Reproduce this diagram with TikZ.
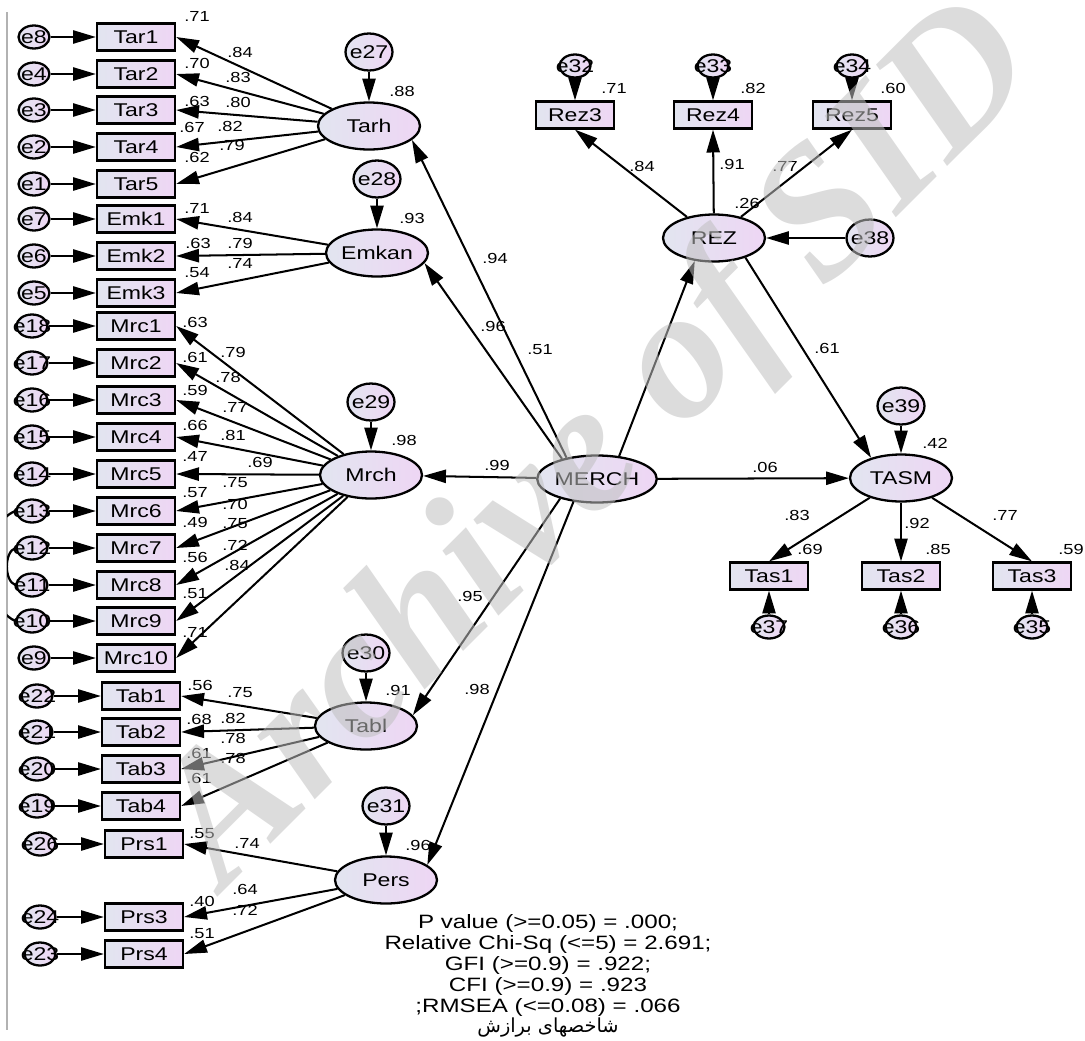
\documentclass[tikz,border=0pt]{standalone}
\usepackage{fontspec}
\setmainfont{Liberation Sans}
\newfontfamily\amos{Liberation Sans}[FakeStretch=1.25]
\newfontfamily\farsi[Script=Arabic]{DejaVu Sans}
\newfontfamily\wmark{Liberation Serif}
\TeXXeTstate=1
\usetikzlibrary{shapes.geometric,arrows.meta,positioning}
\definecolor{fillL}{RGB}{226,229,240}
\definecolor{fillR}{RGB}{238,214,244}
\tikzset{
  obs/.style={draw,line width=1.3pt,rectangle,left color=fillL,right color=fillR,minimum width=1.56cm,minimum height=0.54cm,inner sep=0pt,font=\amos\fontsize{10.5}{12}\selectfont},
  lat/.style={draw,line width=1.3pt,ellipse,left color=fillL,right color=fillR,minimum width=2.04cm,minimum height=0.94cm,inner sep=0pt,font=\amos\fontsize{10.5}{12}\selectfont},
  errb/.style={draw,line width=1.3pt,ellipse,left color=fillL,right color=fillR,minimum width=0.94cm,minimum height=0.74cm,inner sep=0pt,label={[font=\amos\fontsize{10.5}{12}\selectfont]center:#1}},
  errs/.style={errb=#1,minimum width=0.62cm,minimum height=0.46cm},
  arr/.style={line width=1.15pt,-{Triangle[length=13pt,width=7.5pt]}},
  coef/.style={font=\amos\fontsize{8.3}{9}\selectfont,inner sep=0pt}
}
\begin{document}
\begin{tikzpicture}[x=0.02cm,y=-0.02cm]
\useasboundingbox (0,0) rectangle (1085,1041);
\draw[black!30,line width=0.6pt] (7,12) -- (7,1030);
% latent variables
\node[lat] (MERCH) at (597,479) {MERCH};
\node[lat] (Tarh) at (369,126) {Tarh};
\node[lat] (Emkan) at (377,253) {Emkan};
\node[lat] (Mrch) at (371,475) {Mrch};
\node[lat] (Tabl) at (366,726) {Tabl};
\node[lat] (Pers) at (386,880) {Pers};
\node[lat] (REZ) at (714,238) {REZ};
\node[lat] (TASM) at (901,478) {TASM};
% disturbances
\foreach \e/\v/\x/\y in {e27/Tarh/369/52,e28/Emkan/377/179,e29/Mrch/371/402,e30/Tabl/366/653,e31/Pers/386/806,e39/TASM/901/406} {
  \node[errb=\e] (\e) at (\x,\y) {};
  \draw[arr] (\e) -- (\v);
}
\node[errb=e38] (e38) at (870,238) {};
\draw[arr] (e38) -- (REZ);
% indicators of the first-order factors
\foreach \v/\e/\ex/\bx/\y/\f in {Tar1/e8/34/136/37/Tarh,Tar2/e4/34/136/74/Tarh,Tar3/e3/34/136/110/Tarh,Tar4/e2/34/136/147/Tarh,Tar5/e1/34/136/184/Tarh,
  Emk1/e7/34/136/219/Emkan,Emk2/e6/34/136/256/Emkan,Emk3/e5/34/136/293/Emkan,
  Mrc1/e18/32/136/326/Mrch,Mrc2/e17/32/136/363/Mrch,Mrc3/e16/32/136/400/Mrch,Mrc4/e15/32/136/437/Mrch,Mrc5/e14/32/136/474/Mrch,
  Mrc6/e13/32/136/511/Mrch,Mrc7/e12/32/136/548/Mrch,Mrc8/e11/32/136/585/Mrch,Mrc9/e10/32/136/621/Mrch,Mrc10/e9/34/136/658/Mrch,
  Tab1/e22/37/141/696/Tabl,Tab2/e21/37/141/732/Tabl,Tab3/e20/37/141/769/Tabl,Tab4/e19/37/141/806/Tabl,
  Prs1/e26/40/144/844/Pers,Prs3/e24/40/144/917/Pers,Prs4/e23/40/144/954/Pers} {
  \node[obs] (\v) at (\bx,\y) {\v};
  \node[errs=\e] (\e) at (\ex,\y) {};
  \draw[arr] (\e) -- (\v);
  \draw[arr] (\f) -- (\v.east);
}
% REZ and TASM indicators
\foreach \v/\e/\x in {Rez3/e32/575,Rez4/e33/713,Rez5/e34/852} {
  \node[obs] (\v) at (\x,115) {\v};
  \node[errs=\e] (\e) at (\x,66) {};
  \draw[arr] (\e) -- (\v);
  \draw[arr] (REZ) -- (\v.south);
}
\foreach \v/\e/\x in {Tas1/e37/769,Tas2/e36/901,Tas3/e35/1032} {
  \node[obs] (\v) at (\x,576) {\v};
  \node[errs=\e] (\e) at (\x,627) {};
  \draw[arr] (\e) -- (\v);
  \draw[arr] (TASM) -- (\v.north);
}
% structural paths
\draw[arr] (MERCH.145) -- (Tarh.-18);
\draw[arr] (MERCH.150) -- (Emkan.-12);
\draw[arr] (MERCH) -- (Mrch);
\draw[arr] (MERCH.-152) -- (Tabl.13);
\draw[arr] (MERCH.-136) -- (Pers.20);
\draw[arr] (MERCH.46) -- (REZ.-130);
\draw[arr] (MERCH) -- (TASM);
\draw[arr] (REZ.-32) -- (TASM.146);
% correlated errors, cut at the frame
\begin{scope}
\clip (7,0) rectangle (80,1041);
\draw[line width=1.3pt] (e13.west) .. controls (-20,525) and (-20,605) .. (e10.west);
\draw[line width=1.3pt] (e12.west) .. controls (4,552) and (4,581) .. (e11.west);
\end{scope}
% estimates
\foreach \t/\x/\y [count=\i] in {.71/197/16,.70/197/63,.63/197/101,.67/192/127,.62/197/157,
  .84/240/52,.83/238/77,.80/238/102,.82/230/126,.79/232/145,
  .71/197/208,.63/198/243,.54/197/273,.84/240/217,.79/240/243,.74/240/263,
  .63/195/322,.61/195/357,.59/195/390,.66/195/425,.47/195/456,.57/195/493,.49/195/522,.56/195/557,.51/195/594,.71/195/632,
  .79/233/352,.78/228/377,.77/235/407,.81/233/435,.69/260/462,.75/235/483,.70/235/504,.75/235/524,.72/235/545,.84/237/565,
  .56/200/685,.68/199/719,.61/199/753,.61/199/778,.75/240/693,.82/233/718,.78/233/738,.78/233/758,
  .55/202/834,.40/202/901,.51/202/934,.74/247/843,.64/245/889,.72/245/910,
  .88/402/91,.93/412/218,.98/404/440,.91/398/690,.96/418/845,
  .94/495/258,.96/493/326,.99/497/465,.95/470/596,.98/477/689,
  .51/540/350,.06/765/467,.61/827/348,.26/747/203,.42/935/443,
  .71/614/88,.82/753/88,.60/893/88,.84/642/166,.91/732/164,.77/785/166,
  .83/797/515,.92/917/523,.77/1005/515,.69/810/549,.85/938/549,.59/1071/549}
  \node[coef] (c\i) at (\x,\y) {\t};
% fit indices
\node[align=center,inner sep=0pt,font=\amos\fontsize{11}{11.9}\selectfont] (fit) at (548,976) {P value (>=0.05) = .000;\\Relative Chi-Sq (<=5) = 2.691;\\GFI (>=0.9) = .922;\\CFI (>=0.9) = .923\\;RMSEA (<=0.08) = .066\\{\farsi\fontsize{11}{11.9}\selectfont\beginR شاخصهای برازش\endR}};
% watermark
\node[rotate=45,text=black!25,text opacity=0.55,inner sep=0pt,font=\wmark\bfseries\itshape\fontsize{106}{106}\selectfont] (wm) at (602,448) {Archive of SID};
\end{tikzpicture}
\end{document}
